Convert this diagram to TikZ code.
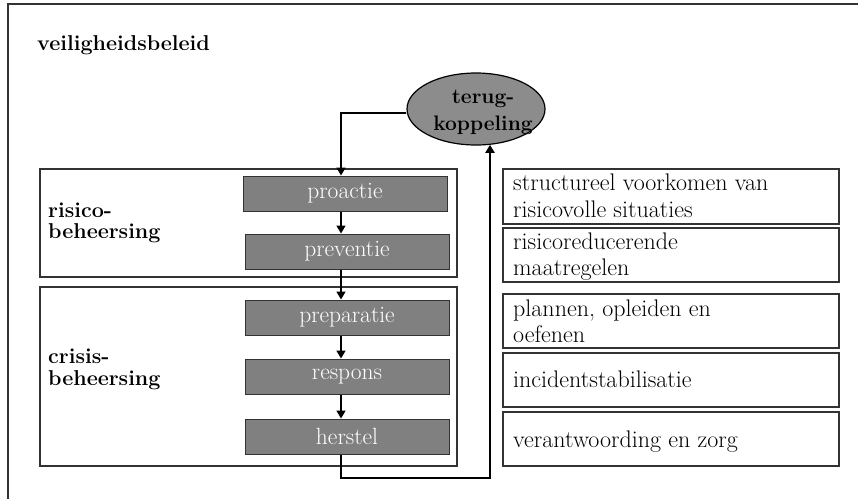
\documentclass[tikz,border=0pt]{standalone}
\usepackage{fontspec}
\usetikzlibrary{shapes.geometric,arrows.meta}
\begin{document}
\begin{tikzpicture}[x=1pt,y=-1pt,
  frameline/.style={draw=black!80,line width=1.2pt},
  groupbox/.style={draw=black!80,line width=1.2pt,inner sep=0pt,minimum width=417pt},
  graybox/.style={draw=black!80,line width=1pt,fill=black!50,text=white,minimum width=204pt,minimum height=35pt,inner sep=0pt,font=\fontsize{23.5}{27}\selectfont},
  rightbox/.style={draw=black!80,line width=1.2pt,minimum width=336pt,inner sep=0pt},
  rtext/.style={anchor=base west,inner sep=0pt,text=black,font=\fontsize{24}{27}\selectfont},
  btext/.style={anchor=base west,inner sep=0pt,text=black,font=\bfseries\fontsize{21.5}{22}\selectfont},
  arr/.style={draw=black,line width=1.6pt,-{Triangle[length=8pt,width=9pt]}},
  looparr/.style={draw=black,line width=2.4pt,-{Triangle[length=8pt,width=9pt]}}
]
\useasboundingbox (0,0) rectangle (858,499);
\draw[frameline] (858,4) -- (8,4) -- (8,499);

\node[btext] (title) at (37,50) {veiligheidsbeleid};

% group boxes
\node[groupbox,minimum height=108pt] (rb) at (248.5,223) {};
\node[groupbox,minimum height=179pt] (cb) at (248.5,376.5) {};
\node[btext] (rl1) at (48,217) {risico-};
\node[btext] (rl2) at (48,238) {beheersing};
\node[btext] (cl1) at (48,363) {crisis-};
\node[btext] (cl2) at (48,385) {beheersing};

% gray steps
\node[graybox] (pa) at (345,193.5) {proactie};
\node[graybox] (pv) at (347,251.5) {preventie};
\node[graybox] (pp) at (347,317.5) {preparatie};
\node[graybox] (rs) at (347,376.5) {respons};
\node[graybox] (hs) at (347,436.5) {herstel};

% feedback ellipse
\node[ellipse,draw=black,line width=1.2pt,fill=black!45,minimum width=138pt,minimum height=72pt,inner sep=0pt] (fb) at (476,109) {};
\node[anchor=base,inner sep=0pt,text=black,font=\bfseries\fontsize{21}{22}\selectfont] (fb1) at (483,103) {terug-};
\node[anchor=base,inner sep=0pt,text=black,font=\bfseries\fontsize{21}{22}\selectfont] (fb2) at (483,130) {koppeling};

\coordinate (ax) at (341,0);
\coordinate (bx) at (490,0);
\coordinate (lb) at (341,478);

\draw[arr] (pa.south -| ax) -- (pv.north -| ax);
\draw[arr] (pv.south -| ax) -- (pp.north -| ax);
\draw[arr] (pp.south -| ax) -- (rs.north -| ax);
\draw[arr] (rs.south -| ax) -- (hs.north -| ax);
\draw[arr] ([yshift=-4pt]fb.west) -| (pa.north -| ax);
\draw[looparr] (hs.south -| ax) -- (lb) -| ([yshift=0.8pt]fb.south -| bx);

% right boxes
\node[rightbox,minimum height=55pt] (r1) at (671,196.5) {};
\node[rightbox,minimum height=54pt] (r2) at (671,255) {};
\node[rightbox,minimum height=54pt] (r3) at (671,321) {};
\node[rightbox,minimum height=54pt] (r4) at (671,380) {};
\node[rightbox,minimum height=54pt] (r5) at (671,439) {};

\node[rtext] (t1a) at (513,190) {structureel voorkomen van};
\node[rtext] (t1b) at (513,217) {risicovolle situaties};
\node[rtext] (t2a) at (513,249) {risicoreducerende};
\node[rtext] (t2b) at (513,275) {maatregelen};
\node[rtext] (t3a) at (513,316) {plannen, opleiden en};
\node[rtext] (t3b) at (513,342) {oefenen};
\node[rtext] (t4) at (513,387) {incidentstabilisatie};
\node[rtext] (t5) at (513,447) {verantwoording en zorg};
\end{tikzpicture}
\end{document}
